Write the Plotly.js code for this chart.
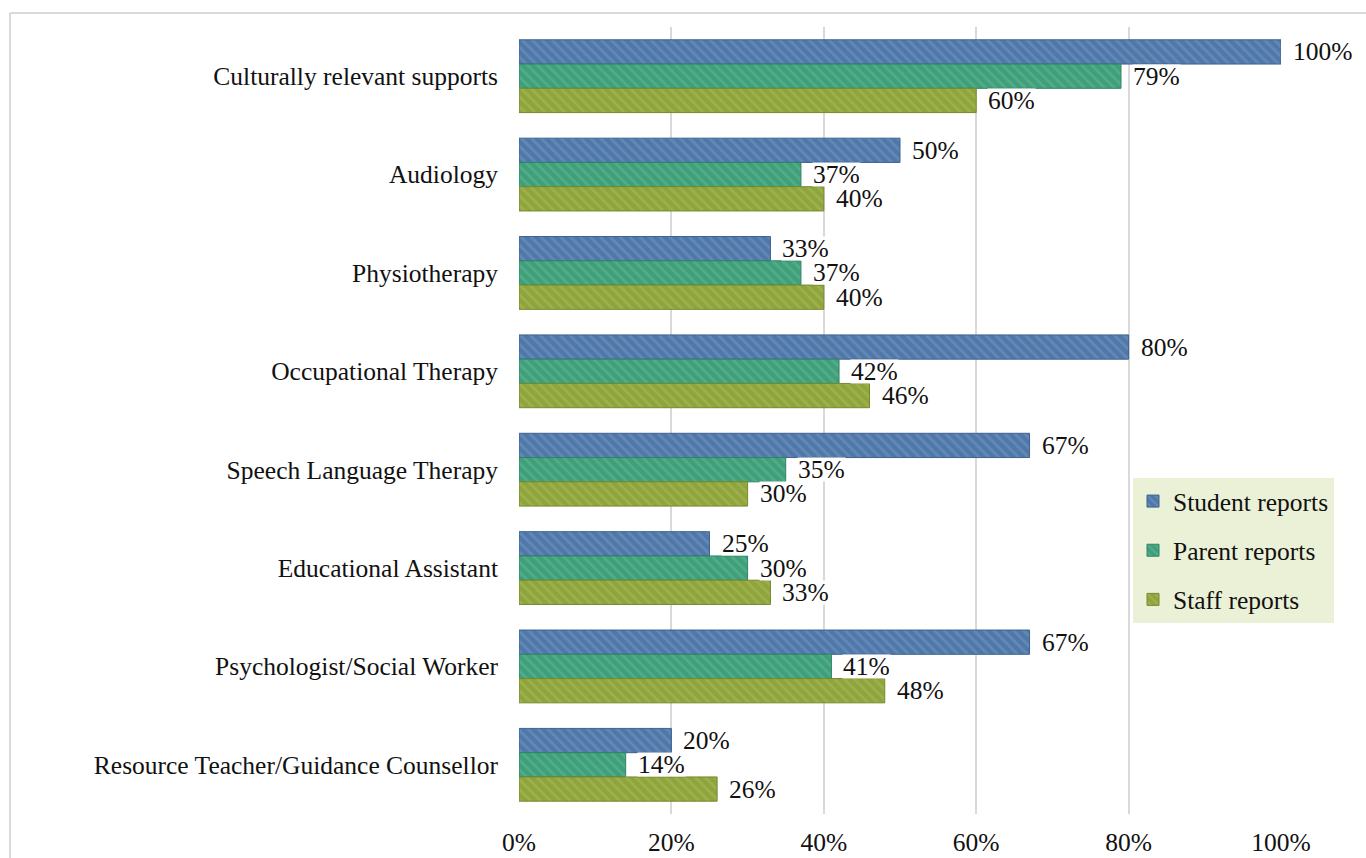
<!DOCTYPE html>
<html>
<head>
<meta charset="utf-8">
<script src="https://cdn.plot.ly/plotly-3.0.1.min.js"></script>
<style>
  html, body { margin: 0; padding: 0; background: #fff; }
  #chart { width: 1366px; height: 858px; }
</style>
</head>
<body>
<div id="chart"></div>
<script>
const categories = [
  "Culturally relevant supports",
  "Audiology",
  "Physiotherapy",
  "Occupational Therapy",
  "Speech Language Therapy",
  "Educational Assistant",
  "Psychologist/Social Worker",
  "Resource Teacher/Guidance Counsellor"
];
const seriesNames = ["Student reports", "Parent reports", "Staff reports"];
const studentValues = [100, 50, 33, 80, 67, 25, 67, 20];
const parentValues  = [79, 37, 37, 42, 35, 30, 41, 14];
const staffValues   = [60, 40, 40, 46, 30, 33, 48, 26];
const xTickValues = [0, 20, 40, 60, 80, 100];
const xTickLabels = ["0%", "20%", "40%", "60%", "80%", "100%"];

const fills   = ["#4F78A9", "#3E9F7A", "#8FA43B"];
const lines   = ["#3D6290", "#2F8465", "#758A2C"];
const stripes = ["#6F93BF", "#5DB590", "#A5B85A"];
const allValues = [studentValues, parentValues, staffValues];

const FONT = "Liberation Serif, Times New Roman, serif";
const FS = 25.5;
const M = {l: 519, r: 85, t: 27, b: 44};
const plotH = 858 - M.t - M.b;
const plotW = 1366 - M.l - M.r;
const bandH = plotH / categories.length;
const bargap = 0.26;
const barH = bandH * (1 - bargap) / 3;

const traces = allValues.map((vals, i) => ({
  type: "bar",
  orientation: "h",
  name: seriesNames[i],
  legendgroup: "g" + i,
  y: categories,
  x: vals,
  marker: {
    color: fills[i],
    line: {color: lines[i], width: 1},
    pattern: {shape: "\\", fillmode: "replace", bgcolor: fills[i], fgcolor: stripes[i],
              fgopacity: 0.6, size: 7, solidity: 0.4}
  },
  hoverinfo: "x+y+name"
}));

const annotations = [];
allValues.forEach((vals, i) => {
  vals.forEach((v, j) => {
    annotations.push({
      x: v, y: categories[j], xref: "x", yref: "y",
      text: v + "%",
      showarrow: false,
      xanchor: "left", yanchor: "middle",
      xshift: 11,
      yshift: (1 - i) * barH,
      height: barH - 1,
      valign: "middle",
      bgcolor: "#ffffff",
      borderpad: 0,
      font: {family: FONT, size: FS, color: "#111"}
    });
  });
});

const layout = {
  width: 1366, height: 858,
  margin: M,
  paper_bgcolor: "#ffffff",
  plot_bgcolor: "rgba(0,0,0,0)",
  barmode: "group",
  bargap: bargap,
  bargroupgap: 0,
  font: {family: FONT, size: FS, color: "#111"},
  xaxis: {
    range: [0, 100],
    tickvals: xTickValues,
    ticktext: xTickLabels,
    showgrid: true, gridcolor: "#D9D9D9", gridwidth: 2,
    zeroline: false, showline: false, ticks: "",
    ticklabelstandoff: 10,
    fixedrange: true
  },
  yaxis: {
    type: "category",
    autorange: "reversed",
    showgrid: false, zeroline: false, showline: false, ticks: "",
    ticklabelstandoff: 20,
    fixedrange: true
  },
  legend: {
    x: (1133 - M.l) / plotW, y: 1 - (478 - M.t) / plotH,
    xanchor: "left", yanchor: "top",
    bgcolor: "#EBF1D6",
    borderwidth: 0,
    traceorder: "grouped",
    tracegroupgap: 13,
    font: {family: FONT, size: FS, color: "#111"}
  },
  shapes: [
    {type: "line", xref: "paper", yref: "paper", layer: "below",
     x0: (10 - M.l) / plotW, x1: (10 - M.l) / plotW, y0: -1, y1: 1 + (M.t - 13) / plotH,
     line: {color: "#D9D9D9", width: 2}},
    {type: "line", xref: "paper", yref: "paper", layer: "below",
     x0: (10 - M.l) / plotW, x1: 2, y0: 1 + (M.t - 13) / plotH, y1: 1 + (M.t - 13) / plotH,
     line: {color: "#D9D9D9", width: 2}}
  ],
  annotations: annotations,
  showlegend: true
};

Plotly.newPlot("chart", traces, layout, {displayModeBar: false, staticPlot: true});
</script>
</body>
</html>
